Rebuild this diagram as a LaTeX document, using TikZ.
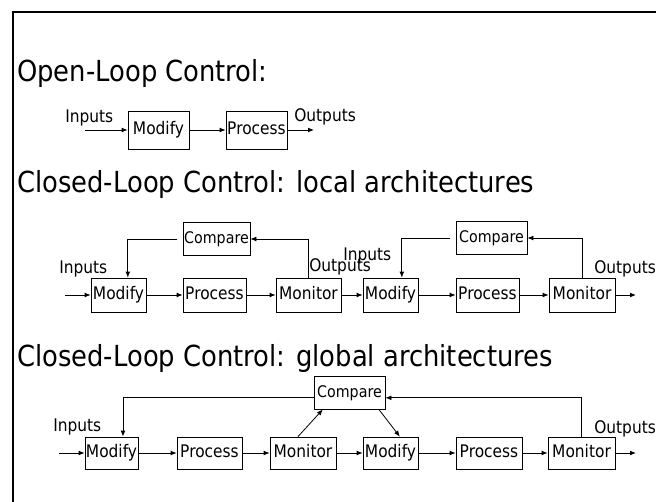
\documentclass[tikz,border=0pt]{standalone}
\usepackage{fontspec}
\setmainfont{DejaVu Sans}[FakeStretch=0.89]
\usetikzlibrary{arrows.meta,positioning}

\newcommand{\headfont}{\fontsize{21.75}{26}\selectfont}
\newcommand{\lblfont}{\fontsize{13}{15}\selectfont}
\newcommand{\cmpfont}{\fontsize{12}{14}\selectfont}

\begin{document}
\begin{tikzpicture}[x=0.75pt,y=-0.75pt,
    >={Latex[length=4.5pt,width=3.6pt]},
    blk/.style={draw, line width=0.6pt, inner sep=0pt, font=\lblfont, minimum height=25.5pt,
        text height=9.5pt, text depth=2.5pt},
    cmp/.style={blk, font=\cmpfont, minimum height=24.75pt},
    head/.style={anchor=base west, inner sep=0pt, font=\headfont},
    tag/.style={anchor=base west, inner sep=0pt, font=\lblfont},
    flow/.style={->, line width=0.6pt}]
    \useasboundingbox (0,0) rectangle (656,502);

    % Frame
    \draw[line width=1.5pt] (13,502) -- (13,12) -- (656,12);

    % Headings
    \node[head] (t1) at (17,82) {Open-Loop Control:};
    \node[head] (t2) at (17,193) {Closed-Loop Control: local architectures};
    \node[head] (t3) at (17,366) {Closed-Loop Control: global architectures};

    % Open loop
    \node[blk, minimum width=45.75pt, minimum height=28.5pt] (om) at (158.5,130) {Modify};
    \node[blk, minimum width=45.75pt, minimum height=28.5pt] (op) at (256.5,130) {Process};
    \coordinate (oin) at (85,130);
    \coordinate (oout) at (314,130);
    \node[tag] (oinl) at (65,123) {Inputs};
    \node[tag] (ooutl) at (294,122) {Outputs};

    \draw[flow] (oin) -- (om);
    \draw[flow] (om) -- (op);
    \draw[flow] (op) -- (oout);

    % Closed loop, local
    \node[blk, minimum width=41.25pt] (am1) at (118.5,295) {Modify};
    \node[blk, minimum width=47.25pt] (ap1) at (214.5,295) {Process};
    \node[blk, minimum width=48.75pt] (an1) at (308.5,295) {Monitor};
    \node[cmp, minimum width=50.25pt] (ac1) at (216.5,239) {Compare};
    \node[blk, minimum width=41.25pt] (am2) at (390.5,295) {Modify};
    \node[blk, minimum width=47.25pt] (ap2) at (487.5,295) {Process};
    \node[blk, minimum width=49.5pt] (an2) at (582,295) {Monitor};
    \node[cmp, minimum width=53.25pt] (ac2) at (491.5,238) {Compare};
    \coordinate (ain) at (65,295);
    \coordinate (aout) at (636,295);
    \node[tag] (ainl1) at (59,273) {Inputs};
    \node[tag] (aoutl1) at (309,272) {Outputs};
    \node[tag] (ainl2) at (343,260) {Inputs};
    \node[tag] (aoutl2) at (594,273) {Outputs};

    \draw[flow] (ain) -- (am1);
    \draw[flow] (am1) -- (ap1);
    \draw[flow] (ap1) -- (an1);
    \draw[flow] (an1) -- (am2);
    \draw[flow] (am2) -- (ap2);
    \draw[flow] (ap2) -- (an2);
    \draw[flow] (an2) -- (aout);
    \draw[flow] (an1.north) |- (ac1.east);
    \draw[flow, shorten <=4pt] (ac1.west) -| ([xshift=7pt]am1.north);
    \draw[flow] (an2.north) |- (ac2.east);
    \draw[flow, shorten <=4pt] (ac2.west) -| ([xshift=8.5pt]am2.north);

    % Closed loop, global
    \node[blk, minimum width=39.75pt, minimum height=24pt] (bm1) at (111.5,453) {Modify};
    \node[blk, minimum width=48.75pt, minimum height=24pt] (bp1) at (209.5,453) {Process};
    \node[blk, minimum width=49.5pt, minimum height=24pt] (bn1) at (303,453) {Monitor};
    \node[cmp, minimum width=53.25pt] (bc) at (349.5,392.5) {Compare};
    \node[blk, minimum width=41.25pt, minimum height=24pt] (bm2) at (390.5,453) {Modify};
    \node[blk, minimum width=49.5pt, minimum height=24pt] (bp2) at (489,453) {Process};
    \node[blk, minimum width=50.25pt, minimum height=24pt] (bn2) at (581.5,453) {Monitor};
    \coordinate (bin) at (59,453);
    \coordinate (bout) at (636,453);
    \node[tag] (binl) at (53,431) {Inputs};
    \node[tag] (boutl) at (594,433) {Outputs};

    \draw[flow] (bin) -- (bm1);
    \draw[flow] (bm1) -- (bp1);
    \draw[flow] (bp1) -- (bn1);
    \draw[flow] (bn1) -- (bm2);
    \draw[flow] (bm2) -- (bp2);
    \draw[flow] (bp2) -- (bn2);
    \draw[flow] (bn2) -- (bout);
    \draw[flow] ([xshift=-3.75pt]bn1.north) -- ([xshift=-20pt]bc.south);
    \draw[flow] ([xshift=22pt]bc.south) -- ([xshift=7pt]bm2.north);
    \draw[flow] (bn2.north) |- ([yshift=-4pt]bc.east);
    \draw[flow] ([yshift=-4pt]bc.west) -| ([xshift=8.6pt]bm1.north);
\end{tikzpicture}
\end{document}
